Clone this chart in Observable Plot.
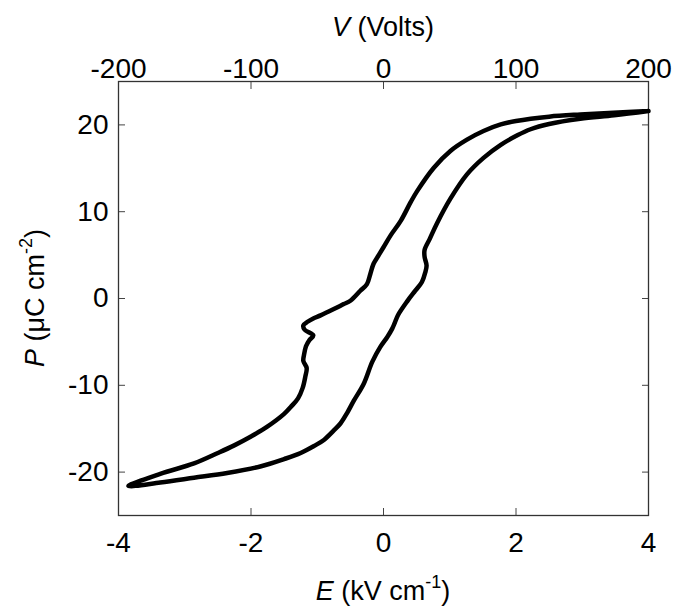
<!DOCTYPE html>
<html><head><meta charset="utf-8">
<script src="https://cdn.jsdelivr.net/npm/d3@7"></script>
<script src="https://cdn.jsdelivr.net/npm/@observablehq/plot@0.6"></script>
<style>body{margin:0;background:#fff}</style>
</head><body><div id="chart"></div>
<script>
// Descending branch (E from +4 down to the negative tip)
const descE = [4.0, 3.47, 2.97, 2.5, 2.0, 1.77, 1.51, 1.26, 1.01, 0.76, 0.51, 0.41, 0.26, 0.11, 0.0, -0.08, -0.15, -0.2, -0.25, -0.35, -0.5, -0.6, -0.75, -0.95, -1.06, -1.14, -1.21, -1.19, -1.06, -1.12, -1.17, -1.2, -1.21, -1.16, -1.18, -1.22, -1.29, -1.4, -1.5, -1.76, -2.0, -2.26, -2.5, -2.86, -3.37, -3.85];
const descP = [21.6, 21.4, 21.2, 20.95, 20.45, 20.05, 19.3, 18.3, 17.0, 15.07, 12.4, 11.1, 8.94, 7.3, 5.9, 4.9, 4.0, 2.8, 1.66, 0.89, -0.26, -0.64, -1.22, -1.95, -2.3, -2.65, -3.1, -3.6, -4.25, -4.8, -5.5, -6.5, -7.2, -8.0, -9.0, -10.3, -11.5, -12.5, -13.3, -14.8, -15.9, -16.95, -17.8, -19.0, -20.2, -21.6];
// Ascending branch (E from the negative tip up to +4)
const ascE = [-3.85, -3.37, -2.86, -2.36, -1.86, -1.5, -1.25, -1.05, -0.9, -0.75, -0.65, -0.55, -0.45, -0.3, -0.17, -0.05, 0.06, 0.13, 0.17, 0.22, 0.36, 0.48, 0.58, 0.63, 0.65, 0.62, 0.62, 0.7, 0.81, 1.01, 1.26, 1.51, 1.77, 2.02, 2.22, 2.5, 2.97, 3.48, 4.0];
const ascP = [-21.6, -21.2, -20.65, -20.1, -19.35, -18.5, -17.8, -17.0, -16.3, -15.2, -14.4, -13.2, -11.8, -9.85, -7.3, -5.6, -4.4, -3.5, -2.8, -1.9, -0.3, 0.9, 1.9, 3.0, 3.8, 4.8, 5.6, 6.9, 8.7, 11.5, 14.3, 16.2, 17.7, 18.8, 19.5, 20.1, 20.7, 21.1, 21.6];

const eTicks = [-4, -2, 0, 2, 4];
const vTickLabels = ["-200", "-100", "0", "100", "200"];
const pTicks = [-20, -10, 0, 10, 20];

const loop = [
  ...descE.map((e, i) => ({E: e, P: descP[i]})),
  ...ascE.slice(1).map((e, i) => ({E: e, P: ascP[i + 1]}))
];

const W = 678, H = 607;
const tickColor = "#444";

const svg = Plot.plot({
  width: W, height: H,
  marginLeft: 118, marginRight: 30, marginTop: 81, marginBottom: 92,
  style: {fontFamily: "'Liberation Sans', Arial, sans-serif", fontSize: "28px", background: "#fff", color: "#000"},
  x: {domain: [-4, 4]},
  y: {domain: [-25, 25]},
  marks: [
    Plot.axisX({anchor: "bottom", ticks: eTicks, tickSize: -7, tickPadding: 24, tickFormat: d => String(d), label: null, stroke: tickColor, fill: "#000"}),
    Plot.axisX({anchor: "top", ticks: eTicks, tickSize: -7, tickPadding: 11, tickFormat: (d, i) => vTickLabels[i], label: null, stroke: tickColor, fill: "#000"}),
    Plot.axisY({anchor: "left", ticks: pTicks, tickSize: -7, tickPadding: 17, tickFormat: d => String(d), label: null, stroke: tickColor, fill: "#000"}),
    Plot.axisY({anchor: "right", ticks: pTicks, tickSize: -7, tickFormat: () => "", label: null, stroke: tickColor}),
    Plot.frame({stroke: "#333", strokeWidth: 1.3}),
    Plot.line(loop, {x: "E", y: "P", stroke: "#000", strokeWidth: 4.5, curve: "catmull-rom", strokeLinejoin: "round", strokeLinecap: "round"})
  ]
});

document.getElementById("chart").appendChild(svg);

const s = d3.select(svg);
const tf = "'Liberation Sans', Arial, sans-serif";
// top title
const t1 = s.append("text").attr("x", 383).attr("y", 36).attr("text-anchor", "middle")
  .attr("font-family", tf).attr("font-size", 27).attr("fill", "#000");
t1.append("tspan").attr("font-style", "italic").text("V");
t1.append("tspan").text(" (Volts)");
// bottom title
const t2 = s.append("text").attr("x", 383).attr("y", 600).attr("text-anchor", "middle")
  .attr("font-family", tf).attr("font-size", 27).attr("fill", "#000");
t2.append("tspan").attr("font-style", "italic").text("E");
t2.append("tspan").text(" (kV cm");
t2.append("tspan").attr("font-size", 18).attr("dy", -12).text("-1");
t2.append("tspan").attr("dy", 12).text(")");
// left title
const t3 = s.append("text").attr("transform", "translate(44,298) rotate(-90)").attr("text-anchor", "middle")
  .attr("font-family", tf).attr("font-size", 27).attr("fill", "#000");
t3.append("tspan").attr("font-style", "italic").text("P");
t3.append("tspan").text(" (\u03BCC cm");
t3.append("tspan").attr("font-size", 18).attr("dy", -12).text("-2");
t3.append("tspan").attr("dy", 12).text(")");
</script>
</body></html>
